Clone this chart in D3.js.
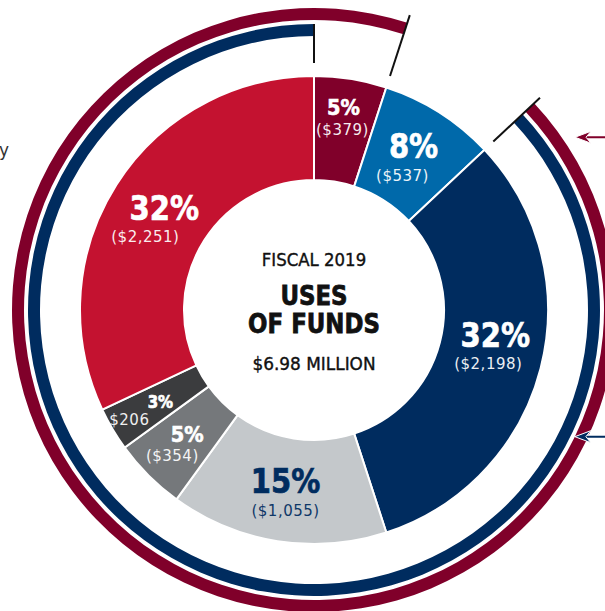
<!DOCTYPE html>
<html>
<head>
<meta charset="utf-8">
<script src="https://cdn.jsdelivr.net/npm/d3@7"></script>
<style>
    body { margin: 0; background: #fff; }
    svg { display: block; }
    text { font-family: "DejaVu Sans", sans-serif; }
</style>
</head>
<body>
<div id="graphContainer"></div>
<script>
"use strict";

// Slices, clockwise from 12 o'clock (percent of total, amount in $ thousands)
const slicePercents = [5, 8, 32, 15, 5, 3, 32];
const sliceAmounts = [379, 537, 2198, 1055, 354, 206, 2251];

// Centre copy
const titleYear = "FISCAL 2019";
const titleLines = ["USES", "OF FUNDS"];
const totalLabel = "$6.98 MILLION";

const svg = d3.select("#graphContainer").append("svg")
    .attr("width", 605)
    .attr("height", 611);

var graphInfo = {
    cx: 314,
    cy: 310,
    innerRadius: 130,
    outerRadius: 234,
    labelRadius: 182,
    navyRing: [274, 286],
    redRing: [290, 302],
    darkRed: "#80002a",
    navy: "#002c5f",
    squeeze: 0.88   // fake a condensed face
};

var color = d3.scaleOrdinal()
    .domain(d3.range(slicePercents.length))
    .range(["#80002a", "#0069aa", "#002c5f", "#c4c8cb", "#75787b", "#3b3c3e", "#c41230"]);

// Small hand nudges for the label pairs, [pct dx, pct dy, amount dx, amount dy]
var labelNudge = [
    [1, -15, 0, 5],
    [2, 2, -9, 25],
    [5, -8, -2, 14],
    [0, 3, 0, 26],
    [2, 3, -13, 22],
    [3, 5, -28, 22],
    [4, 8, -15, 30]
];

var pie = d3.pie().sort(null).value(d => d);
var arcs = pie(slicePercents);

var arc = d3.arc()
    .innerRadius(graphInfo.innerRadius)
    .outerRadius(graphInfo.outerRadius);

var labelArc = d3.arc()
    .innerRadius(graphInfo.labelRadius)
    .outerRadius(graphInfo.labelRadius);

const chart = svg.append("g")
    .attr("transform", `translate(${graphInfo.cx},${graphInfo.cy})`);

// Outer rings: navy covers slices 3-7, dark red also wraps over slice 1
var ringStart = arcs[2].startAngle;
var rings = [
    { r: graphInfo.redRing, start: ringStart, end: arcs[0].endAngle + 2 * Math.PI, fill: graphInfo.darkRed },
    { r: graphInfo.navyRing, start: ringStart, end: arcs[6].endAngle, fill: graphInfo.navy }
];

chart.selectAll(".ring")
    .data(rings)
    .join("path")
    .attr("class", "ring")
    .attr("fill", d => d.fill)
    .attr("d", d => d3.arc()({
        innerRadius: d.r[0], outerRadius: d.r[1], startAngle: d.start, endAngle: d.end
    }));

// Black tick marks at the ring ends
var ticks = [
    { a: arcs[0].startAngle, r0: 247, r1: 286 },
    { a: arcs[0].endAngle, r0: 246, r1: 310 },
    { a: arcs[1].endAngle, r0: 246, r1: 310 }
];

chart.selectAll(".tickMark")
    .data(ticks)
    .join("line")
    .attr("class", "tickMark")
    .attr("stroke", "#111")
    .attr("stroke-width", 2)
    .attr("x1", d => d.r0 * Math.sin(d.a))
    .attr("y1", d => -d.r0 * Math.cos(d.a))
    .attr("x2", d => d.r1 * Math.sin(d.a))
    .attr("y2", d => -d.r1 * Math.cos(d.a));

// The donut slices
chart.selectAll(".slice")
    .data(arcs)
    .join("path")
    .attr("class", "slice")
    .attr("fill", (d, i) => color(i))
    .attr("stroke", "#fff")
    .attr("stroke-width", 2)
    .attr("d", arc);

// Slice labels
function PctSize(v) {
    if (v >= 8) return 33;
    if (v >= 5) return 22;
    return 17;
}

var fmt = d3.format("$,");

const label = chart.selectAll(".sliceLabel")
    .data(arcs)
    .join("g")
    .attr("class", "sliceLabel")
    .attr("fill", (d, i) => i === 3 ? graphInfo.navy : "#fff");

label.append("text")
    .attr("text-anchor", "middle")
    .attr("font-weight", "bold")
    .attr("font-size", d => PctSize(d.value))
    .attr("stroke", (d, i) => i === 3 ? graphInfo.navy : "#fff")
    .attr("stroke-width", 0.7)
    .attr("transform", (d, i) => {
        var c = labelArc.centroid(d);
        return `translate(${c[0] + labelNudge[i][0]},${c[1] + labelNudge[i][1]}) scale(${graphInfo.squeeze},1)`;
    })
    .text(d => d.value + "%");

label.append("text")
    .attr("text-anchor", "middle")
    .attr("font-size", 15)
    .attr("letter-spacing", 0.5)
    .attr("opacity", 0.92)
    .attr("x", (d, i) => labelArc.centroid(d)[0] + labelNudge[i][2])
    .attr("y", (d, i) => labelArc.centroid(d)[1] + labelNudge[i][3])
    .text((d, i) => d.value < 4 ? fmt(sliceAmounts[i]) : "(" + fmt(sliceAmounts[i]) + ")");

// Centre title
const centre = chart.append("g")
    .attr("text-anchor", "middle")
    .attr("fill", "#111");

centre.append("text")
    .attr("transform", "translate(0,-44) scale(0.92,1)")
    .attr("font-size", 18)
    .attr("stroke", "#111")
    .attr("stroke-width", 0.4)
    .text(titleYear);

centre.selectAll(".titleLine")
    .data(titleLines)
    .join("text")
    .attr("class", "titleLine")
    .attr("transform", (d, i) => `translate(0,${-5 + i * 28}) scale(${graphInfo.squeeze},1)`)
    .attr("font-size", 26)
    .attr("font-weight", "bold")
    .attr("stroke", "#111")
    .attr("stroke-width", 0.8)
    .text(d => d);

centre.append("text")
    .attr("transform", "translate(0,60) scale(0.94,1)")
    .attr("font-size", 18)
    .attr("stroke", "#111")
    .attr("stroke-width", 0.4)
    .text(totalLabel);

// Arrows pointing at the rings from the (cropped) notes on the right
var arrows = [
    { angle: 56.5, r: 313, fill: graphInfo.darkRed },
    { angle: 115.9, r: 290, fill: graphInfo.navy }
];

arrows.forEach(function (a) {
    var rad = a.angle * Math.PI / 180;
    var tx = graphInfo.cx + a.r * Math.sin(rad);
    var ty = graphInfo.cy - a.r * Math.cos(rad);
    var g = svg.append("g");

    // White halo so the arrow cuts through the rings cleanly
    g.append("line")
        .attr("x1", tx + 6).attr("y1", ty)
        .attr("x2", 620).attr("y2", ty)
        .attr("stroke", "#fff")
        .attr("stroke-width", 5);
    g.append("line")
        .attr("x1", tx + 8).attr("y1", ty)
        .attr("x2", 620).attr("y2", ty)
        .attr("stroke", a.fill)
        .attr("stroke-width", 2);
    g.append("path")
        .attr("fill", a.fill)
        .attr("stroke", "#fff")
        .attr("stroke-width", 1)
        .attr("d", `M${tx},${ty} L${tx + 16},${ty - 6} L${tx + 11},${ty} L${tx + 16},${ty + 6} Z`);
});

// Tail of a cropped note on the left
svg.append("text")
    .attr("x", 9)
    .attr("y", 156)
    .attr("text-anchor", "end")
    .attr("font-size", 17)
    .attr("font-family", "Roboto, sans-serif")
    .attr("fill", "#333")
    .text("y");
</script>
</body>
</html>
